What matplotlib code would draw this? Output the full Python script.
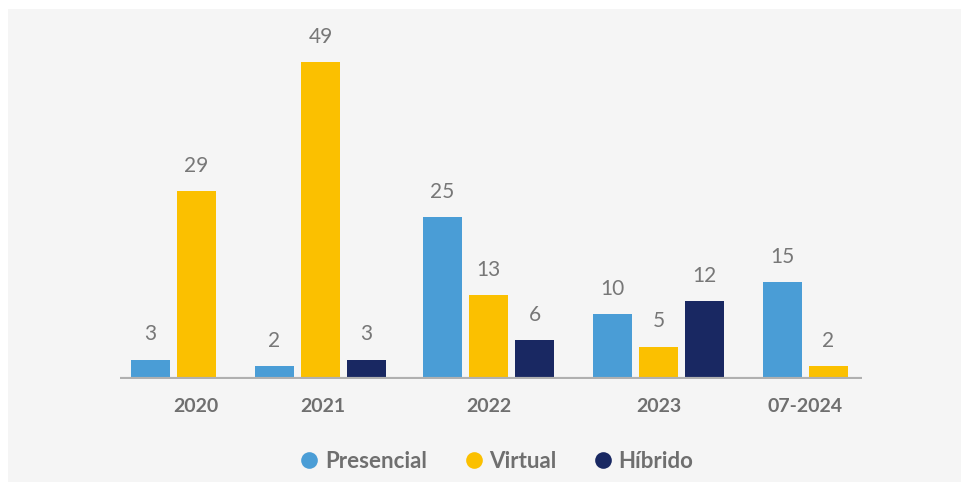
import numpy as np
import matplotlib.pyplot as plt
from matplotlib.patches import Rectangle
from matplotlib.lines import Line2D

# data
categories = ["2020", "2021", "2022", "2023", "07-2024"]
series_names = ["Presencial", "Virtual", "Híbrido"]
presencial = [3, 2, 25, 10, 15]
virtual = [29, 49, 13, 5, 2]
hibrido = [None, 3, 6, 12, None]

colors = ["#4a9dd6", "#fbc000", "#192862"]
text_grey = "#6f6f6f"

# layout (pixel-like x units, matching the original group placement)
W, H = 961, 483
group_mid = [196.5, 320.5, 488.5, 658.5, 828.5]
tick_x = [196, 323, 489, 659, 805]
step = 46
bar_w = 39
px_per_unit = 6.47

plt.rcParams['font.family'] = ['Lato', 'DejaVu Sans']

fig = plt.figure(figsize=(W / 100, H / 100), dpi=100, facecolor="white")
# grey panel
fig.patches.append(Rectangle((8 / W, 1 / H), 1 - 8 / W, (482 - 9) / H,
                             transform=fig.transFigure, facecolor="#f5f5f5",
                             edgecolor="none", zorder=-5))

ax_left, ax_right = 120, 862
ax_top, ax_base = 9, 379
ax = fig.add_axes([ax_left / W, (H - ax_base) / H,
                   (ax_right - ax_left) / W, (ax_base - ax_top) / H])
ax.set_facecolor("none")
ax.set_xlim(ax_left, ax_right)
ax.set_ylim(0, (ax_base - ax_top) / px_per_unit)

for i, vals in enumerate([presencial, virtual, hibrido]):
    for g, v in enumerate(vals):
        if v is None:
            continue
        x = group_mid[g] + (i - 1) * step
        ax.bar(x, v, width=bar_w, color=colors[i], zorder=2)
        ax.annotate(str(v), (x, v), xytext=(0, 11), textcoords="offset points",
                    ha="center", va="bottom", fontsize=15, color="#777777")

ax.axhline(0, color="#b0b0b0", linewidth=3, zorder=3)

for s in ax.spines.values():
    s.set_visible(False)
ax.set_yticks([])
ax.set_xticks(tick_x, categories)
ax.tick_params(axis="x", length=0, pad=14, labelsize=14, labelcolor=text_grey)
for lbl in ax.get_xticklabels():
    lbl.set_fontweight("bold")

handles = [Line2D([], [], marker="o", linestyle="none", markersize=12,
                  markerfacecolor=c, markeredgecolor="none") for c in colors]
fig.legend(handles, series_names, loc="center", bbox_to_anchor=(497 / W, (H - 461) / H),
           ncol=3, frameon=False, handlelength=0.8, handletextpad=0.3,
           columnspacing=1.7, prop={"weight": "bold", "size": 16}, labelcolor=text_grey)

fig.savefig("out.png", dpi=100, facecolor="white")
